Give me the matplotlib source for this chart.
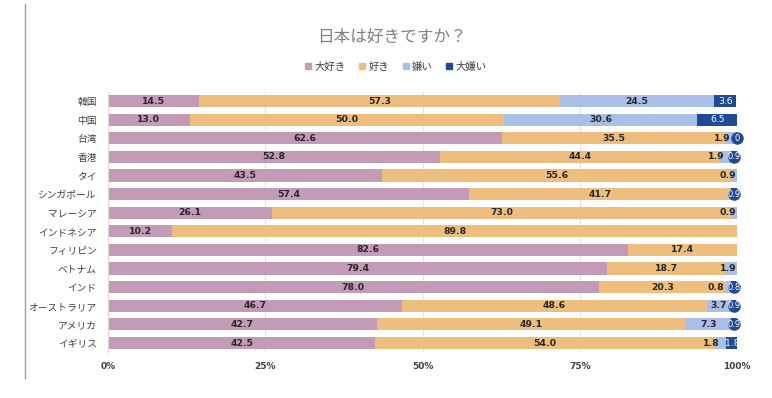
import matplotlib
matplotlib.use("Agg")
import matplotlib.pyplot as plt
from matplotlib.lines import Line2D
import numpy as np

plt.rcParams['font.family'] = ['Noto Sans CJK JP', 'DejaVu Sans']

countries = ["韓国", "中国", "台湾", "香港", "タイ", "シンガポール", "マレーシア",
             "インドネシア", "フィリピン", "ベトナム", "インド", "オーストラリア",
             "アメリカ", "イギリス"]
series_names = ["大好き", "好き", "嫌い", "大嫌い"]

# None = no segment / no label
love = [14.5, 13.0, 62.6, 52.8, 43.5, 57.4, 26.1, 10.2, 82.6, 79.4, 78.0, 46.7, 42.7, 42.5]
like = [57.3, 50.0, 35.5, 44.4, 55.6, 41.7, 73.0, 89.8, 17.4, 18.7, 20.3, 48.6, 49.1, 54.0]
dislike = [24.5, 30.6, 1.9, 1.9, 0.9, None, 0.9, None, None, 1.9, 0.8, 3.7, 7.3, 1.8]
hate = [3.6, 6.5, 0.0, 0.9, None, 0.9, None, None, None, None, 0.8, 0.9, 0.9, 1.8]

colors = ["#C39BB6", "#EDBE7E", "#A9BFE8", "#1F4A94"]
num_font = dict(family="DejaVu Sans", fontsize=6.7)

fig = plt.figure(figsize=(7.72, 3.98), dpi=100)
ax = fig.add_axes([0.1399, 0.1148, 0.8148, 0.6548])

y = np.arange(len(countries))
left = np.zeros(len(countries))
for i, (vals, c) in enumerate(zip([love, like, dislike, hate], colors)):
    v = np.array([0.0 if x is None else x for x in vals])
    ax.barh(y, v, left=left, height=0.65, color=c, zorder=2)
    for j, x in enumerate(vals):
        if x is None:
            continue
        cx = left[j] + v[j] / 2
        end = left[j] + v[j]
        txt = "0" if x == 0 else f"{x:.1f}"
        if i == 3:
            if x < 1.5:
                # small values get a round callout
                ax.plot(cx, j, "o", ms=9, color=c, mec="none", zorder=4, clip_on=False)
                ax.text(cx, j, txt, ha="center", va="center", color="white",
                        zorder=5, family="DejaVu Sans", fontsize=6)
            else:
                ax.text(cx, j, txt, ha="center", va="center", color="white",
                        zorder=5, **num_font)
        elif i == 2 and x < 3:
            pad = 1.1 if hate[j] is not None else 0.1
            ax.text(end - pad, j, txt, ha="right", va="center", color="#262626",
                    fontweight="bold", zorder=3, **num_font)
        else:
            ax.text(cx, j, txt, ha="center", va="center", color="#262626",
                    fontweight="bold", zorder=3, **num_font)
    left += v

ax.set_xlim(0, 100)
ax.set_ylim(len(countries) - 0.5, -0.5)
ax.set_yticks(y)
ax.set_yticklabels(countries, fontsize=7, color="#404040")
ax.set_xticks([0, 25, 50, 75, 100])
ax.set_xticklabels(["0%", "25%", "50%", "75%", "100%"], fontsize=6.5,
                   fontweight="bold", color="#404040", family="DejaVu Sans")
ax.tick_params(length=0, axis="both")
ax.tick_params(axis="x", pad=7)
ax.tick_params(axis="y", pad=8)
ax.grid(axis="x", color="#e3e3e3", lw=0.8, zorder=0)
for s in ["top", "right", "bottom"]:
    ax.spines[s].set_visible(False)
ax.spines["left"].set_color("#d9d9d9")

fig.text(0.508, 0.905, "日本は好きですか？", ha="center", va="center",
         fontsize=12, color="#808080")

handles = [Line2D([], [], marker="s", ls="none", color=c, markersize=5) for c in colors]
fig.legend(handles, series_names, loc="center", bbox_to_anchor=(0.512, 0.832),
           ncol=4, frameon=False, fontsize=7.5, handlelength=0.8, handletextpad=0.2,
           columnspacing=1.2, labelcolor="#404040")

fig.add_artist(Line2D([0.0324, 0.0324], [0.05, 0.99], color="#a0a0a0", lw=1,
                      transform=fig.transFigure))

fig.savefig("out.png", dpi=100)
